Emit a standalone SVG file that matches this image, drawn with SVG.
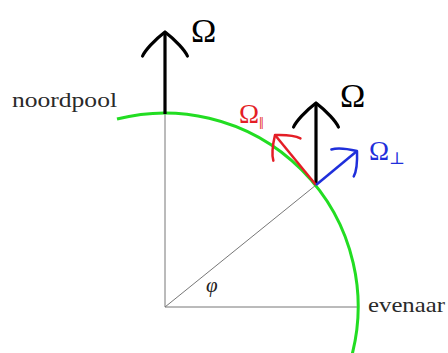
<svg xmlns="http://www.w3.org/2000/svg" width="448" height="353" viewBox="0 0 448 353">
<style>
.txt{font-family:"Liberation Serif","DejaVu Serif",serif;}
.lbl{font-size:21px;fill:#2a2a2a;}
.axis{stroke:#777;stroke-width:1;fill:none;}
.globe{stroke:#22dd22;stroke-width:3;fill:none;}
.hk{fill:none;stroke-linecap:round;stroke-linejoin:round;}
</style>
<defs>
<marker id="ahK" markerUnits="strokeWidth" markerWidth="10" markerHeight="10" refX="0" refY="0" orient="auto" overflow="visible">
<path class="hk" stroke="#000" stroke-width="1" d="M-7.5,-7 C-5.8,-6.3 -2.6,-3.4 0,0 C-2.6,3.4 -5.8,6.3 -7.5,7"/>
</marker>
<marker id="ahR" markerUnits="strokeWidth" markerWidth="10" markerHeight="10" refX="0" refY="0" orient="auto" overflow="visible">
<path class="hk" stroke="#e41e26" stroke-width="1" d="M-7.5,-7 C-5.8,-6.3 -2.6,-3.4 0,0 C-2.6,3.4 -5.8,6.3 -7.5,7"/>
</marker>
<marker id="ahB" markerUnits="strokeWidth" markerWidth="10" markerHeight="10" refX="0" refY="0" orient="auto" overflow="visible">
<path class="hk" stroke="#1f2fdb" stroke-width="1" d="M-7.5,-7 C-5.8,-6.3 -2.6,-3.4 0,0 C-2.6,3.4 -5.8,6.3 -7.5,7"/>
</marker>
</defs>
<g id="axes">
<line class="axis" x1="165" y1="307" x2="165" y2="114"/>
<line class="axis" x1="165" y1="307" x2="358" y2="307"/>
<line class="axis" x1="165" y1="307" x2="316" y2="185"/>
</g>
<g id="globe">
<path class="globe" d="M117,119 A193.5,193.5 0 0 1 352,355"/>
</g>
<g id="connectors">
<line x1="165" y1="114" x2="165" y2="32" stroke="#000" stroke-width="3.2" marker-end="url(#ahK)"/>
<line x1="316" y1="185" x2="316" y2="103" stroke="#000" stroke-width="3.2" marker-end="url(#ahK)"/>
<line x1="316" y1="185" x2="275" y2="135" stroke="#e41e26" stroke-width="2.5" marker-end="url(#ahR)"/>
<line x1="316" y1="185" x2="357" y2="151" stroke="#1f2fdb" stroke-width="2.5" marker-end="url(#ahB)"/>
</g>
<g id="labels">
<text class="txt lbl" x="12" y="107" textLength="105" lengthAdjust="spacingAndGlyphs">noordpool</text>
<text class="txt lbl" x="368" y="312" textLength="77" lengthAdjust="spacingAndGlyphs">evenaar</text>
<text class="txt" x="206" y="292" font-size="21" font-style="italic" fill="#222">φ</text>
<text class="txt" x="191" y="42" font-size="34" fill="#000">Ω</text>
<text class="txt" x="340" y="107" font-size="34" fill="#000">Ω</text>
<text class="txt" x="239" y="123" font-size="27" fill="#e41e26">Ω<tspan font-size="17" dy="6">‖</tspan></text>
<text class="txt" x="369" y="160" font-size="27" fill="#1f2fdb">Ω<tspan font-size="17" dy="4">⊥</tspan></text>
</g>
</svg>
